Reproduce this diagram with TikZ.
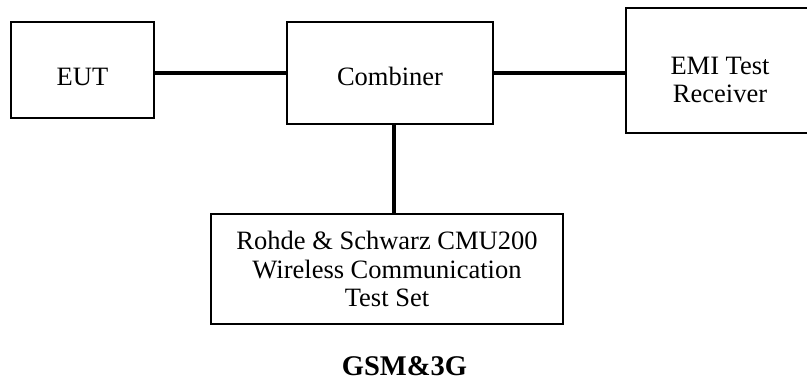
\documentclass[tikz,border=0pt]{standalone}
\usepackage{fontspec}
\setmainfont{Liberation Serif}
\usepackage{tikz}
\tikzset{block/.style={draw, line width=0.8pt, align=center, inner sep=0pt,
                       font=\fontsize{10.6}{11.3}\selectfont},
         wire/.style={draw, line width=1.3pt},
         caption/.style={font=\fontsize{11.4}{13}\selectfont\bfseries, anchor=base}}

\begin{document}
\begin{tikzpicture}[x=0.4pt, y=-0.4pt]
		\useasboundingbox (0,0) rectangle (807,381);
		\node[block, minimum width=57.2pt, minimum height=38.4pt, text height=12.2pt] (eut) at (82.5,70) {EUT};
		\node[block, minimum width=82.4pt, minimum height=40.8pt, text height=10pt] (comb) at (390,73) {Combiner};
		\node[block, minimum width=75.2pt, minimum height=50pt, text height=25.9pt] (emi) at (720,70.5) {EMI Test\\Receiver};
		\node[block, minimum width=140.8pt, minimum height=44pt] (cmu) at (387,269) {Rohde \& Schwarz CMU200\\Wireless Communication\\Test Set};
		\node[caption] (title) at (404.5,375) {GSM\&3G};
		\draw[wire] (eut.east |- comb) -- (comb.west);
		\draw[wire] (comb.east) -- (comb.east -| emi.west);
		\draw[wire] ([xshift=1.6pt]comb.south) -- ([xshift=1.6pt]comb.south |- cmu.north);
	\end{tikzpicture}
\end{document}
